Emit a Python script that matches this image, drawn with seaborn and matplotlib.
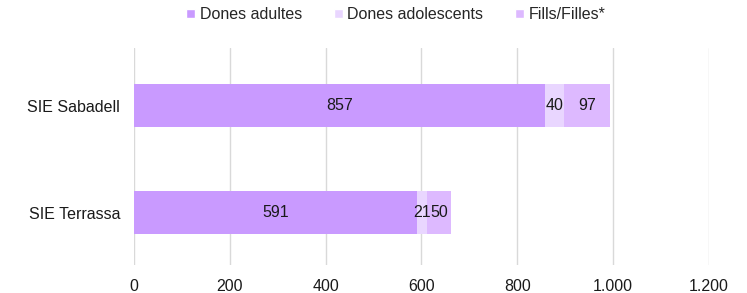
import pandas as pd
import matplotlib.pyplot as plt
import matplotlib.ticker as mticker
import seaborn as sns
from matplotlib.patches import Patch

centres = ["SIE Sabadell", "SIE Terrassa"]
adultes = [857, 591]
adolescents = [40, 21]
fills = [97, 50]
series = ["Dones adultes", "Dones adolescents", "Fills/Filles*"]
colors = ["#C99AFF", "#E9D6FF", "#DDB9FF"]

df = pd.DataFrame({"centre": centres, series[0]: adultes,
                   series[1]: adolescents, series[2]: fills})
cum = df[series].cumsum(axis=1)

sns.set_theme(style="white")
plt.rcParams["font.family"] = ["Liberation Sans", "DejaVu Sans"]

fig = plt.figure(figsize=(7.47, 2.93), dpi=100)
ax = fig.add_axes([0.1794, 0.0956, 0.7697, 0.7404])

# draw cumulative totals from the back to the front
for name, col in reversed(list(zip(series, colors))):
    sns.barplot(x=cum[name], y=df["centre"], orient="h", color=col,
                saturation=1, width=0.4, linewidth=0, ax=ax, zorder=3)

# value labels in the middle of each segment
for i in range(len(df)):
    for name in series:
        left = cum.loc[i, name] - df.loc[i, name]
        ax.text(left + df.loc[i, name] / 2, i, str(df.loc[i, name]),
                ha="center", va="center", fontsize=11.5, color="#1a1a1a", zorder=4)

ax.set_xlim(0, 1200)
ax.set_ylim(1.484, -0.535)
ax.xaxis.set_major_locator(mticker.MultipleLocator(200))
ax.xaxis.set_major_formatter(mticker.FuncFormatter(lambda v, p: f"{int(v):,}".replace(",", ".")))
ax.grid(axis="x", color="#D9D9D9", linewidth=1, zorder=0)
ax.set_xlabel("")
ax.set_ylabel("")
sns.despine(ax=ax, left=True, bottom=True)
ax.tick_params(axis="both", length=0, labelsize=11.5, colors="#1a1a1a")
ax.tick_params(axis="x", pad=10)
ax.tick_params(axis="y", pad=10)

handles = [Patch(facecolor=c, label=s) for s, c in zip(series, colors)]
fig.legend(handles=handles, loc="center", bbox_to_anchor=(0.53, 0.95), ncol=3,
           frameon=False, fontsize=11.5, handlelength=0.55, handleheight=0.55,
           handletextpad=0.3, columnspacing=2.0)

fig.savefig("out.png", dpi=100)
